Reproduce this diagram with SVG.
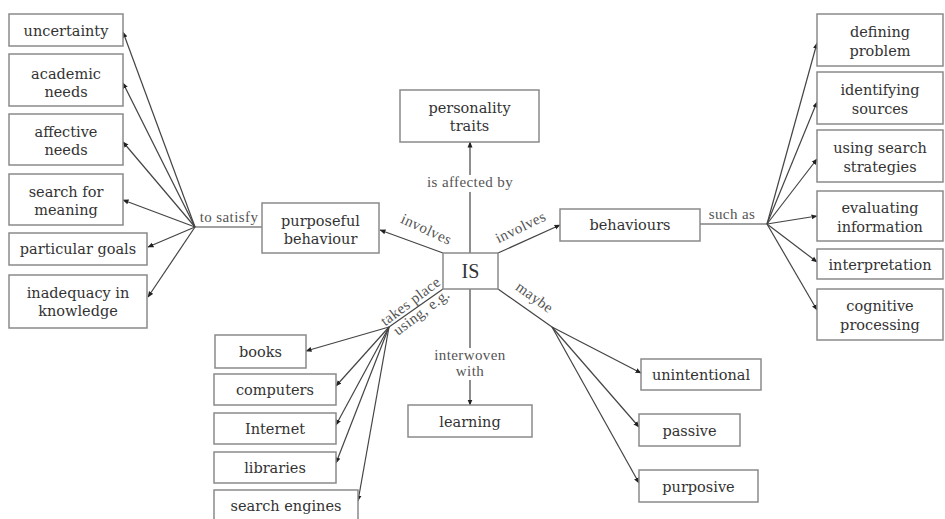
<svg xmlns="http://www.w3.org/2000/svg" width="945" height="519" viewBox="0 0 945 519">
<defs>
<marker id="ah" viewBox="0 0 6 6" refX="5.5" refY="3" markerWidth="6" markerHeight="6" markerUnits="userSpaceOnUse" orient="auto">
<path d="M0,0.5 L6,3 L0,5.5 z" fill="#222"/>
</marker>
<style>
rect{fill:#fff;stroke:#8a8a8a;stroke-width:1.5}
text{fill:#333;text-anchor:middle;font-family:"DejaVu Serif","Liberation Serif",serif}
.n{font-size:14.5px}
.l{font-size:13px;fill:#555;font-family:"Liberation Serif","DejaVu Serif",serif;font-size:15px;letter-spacing:0.4px}
.c line{stroke:#444;stroke-width:1.2;fill:none}
.a{marker-end:url(#ah)}
</style>
</defs>
<rect x="0" y="0" width="945" height="519" style="fill:#fff;stroke:none"/>
<g class="c" id="connectors">
<line x1="470" y1="253" x2="470" y2="192"/>
<line class="a" x1="470" y1="175" x2="470" y2="142"/>
<line class="a" x1="443" y1="253" x2="380" y2="230"/>
<line class="a" x1="498" y1="253" x2="560" y2="225"/>
<line x1="262" y1="227" x2="195" y2="227"/>
<line class="a" x1="195" y1="227" x2="123" y2="32"/>
<line class="a" x1="195" y1="227" x2="123" y2="83"/>
<line class="a" x1="195" y1="227" x2="123" y2="142"/>
<line class="a" x1="195" y1="227" x2="123" y2="200"/>
<line class="a" x1="195" y1="227" x2="148" y2="247"/>
<line class="a" x1="195" y1="227" x2="148" y2="297"/>
<line x1="700" y1="224" x2="767" y2="224"/>
<line class="a" x1="767" y1="224" x2="817" y2="43"/>
<line class="a" x1="767" y1="224" x2="817" y2="102"/>
<line class="a" x1="767" y1="224" x2="817" y2="159"/>
<line class="a" x1="767" y1="224" x2="817" y2="216"/>
<line class="a" x1="767" y1="224" x2="817" y2="262"/>
<line class="a" x1="767" y1="224" x2="817" y2="310"/>
<line x1="443" y1="289" x2="389" y2="327"/>
<line class="a" x1="389" y1="327" x2="306" y2="351"/>
<line class="a" x1="389" y1="327" x2="336" y2="386"/>
<line class="a" x1="389" y1="327" x2="336" y2="425"/>
<line class="a" x1="389" y1="327" x2="336" y2="463"/>
<line class="a" x1="389" y1="327" x2="358" y2="501"/>
<line x1="470" y1="289" x2="470" y2="348"/>
<line class="a" x1="470" y1="380" x2="470" y2="405"/>
<line x1="498" y1="289" x2="552" y2="327"/>
<line class="a" x1="552" y1="327" x2="641" y2="373"/>
<line class="a" x1="552" y1="327" x2="639" y2="427"/>
<line class="a" x1="552" y1="327" x2="639" y2="483"/>
<text class="l" x="470" y="187">is affected by</text>
<text class="l" transform="translate(426,230) rotate(25)" x="0" y="4">involves</text>
<text class="l" transform="translate(521,228) rotate(-26)" x="0" y="4">involves</text>
<text class="l" x="229" y="222">to satisfy</text>
<text class="l" x="732" y="219">such as</text>
<text class="l" transform="translate(411,302) rotate(-37)" x="0" y="4">takes place</text>
<text class="l" transform="translate(422,313) rotate(-37)" x="0" y="4">using, e.g.</text>
<text class="l" transform="translate(534,298) rotate(36)" x="0" y="4">maybe</text>
<text class="l" x="470" y="360">interwoven</text>
<text class="l" x="470" y="376">with</text>
</g>
<g id="is"><rect x="443" y="253" width="55" height="36"/><text x="470.5" y="278" style="font-size:20px;font-family:'Liberation Serif',serif">IS</text></g>
<g id="personality"><rect x="400" y="90" width="139" height="52"/><text class="n" x="469.5" y="113">personality</text><text class="n" x="469.5" y="131">traits</text></g>
<g id="purposeful"><rect x="262" y="203" width="117" height="50"/><text class="n" x="320.5" y="226">purposeful</text><text class="n" x="320.5" y="244">behaviour</text></g>
<g id="behaviours"><rect x="560" y="209" width="140" height="32"/><text class="n" x="630" y="230">behaviours</text></g>
<g id="learning"><rect x="408" y="405" width="124" height="32"/><text class="n" x="470" y="427">learning</text></g>
<g id="uncertainty"><rect x="9" y="14" width="114" height="32"/><text class="n" x="66" y="36">uncertainty</text></g>
<g id="academic"><rect x="9" y="54" width="114" height="52"/><text class="n" x="66" y="79">academic</text><text class="n" x="66" y="97">needs</text></g>
<g id="affective"><rect x="9" y="114" width="114" height="51"/><text class="n" x="66" y="137">affective</text><text class="n" x="66" y="155">needs</text></g>
<g id="search-meaning"><rect x="9" y="174" width="114" height="51"/><text class="n" x="66" y="197">search for</text><text class="n" x="66" y="215">meaning</text></g>
<g id="goals"><rect x="9" y="233" width="138" height="32"/><text class="n" x="78" y="254">particular goals</text></g>
<g id="inadequacy"><rect x="9" y="275" width="138" height="53"/><text class="n" x="78" y="298">inadequacy in</text><text class="n" x="78" y="316">knowledge</text></g>
<g id="defining"><rect x="817" y="14" width="126" height="52"/><text class="n" x="880" y="37">defining</text><text class="n" x="880" y="56">problem</text></g>
<g id="identifying"><rect x="817" y="72" width="126" height="52"/><text class="n" x="880" y="95">identifying</text><text class="n" x="880" y="114">sources</text></g>
<g id="strategies"><rect x="817" y="130" width="126" height="52"/><text class="n" x="880" y="153">using search</text><text class="n" x="880" y="172">strategies</text></g>
<g id="evaluating"><rect x="817" y="191" width="126" height="50"/><text class="n" x="880" y="213">evaluating</text><text class="n" x="880" y="232">information</text></g>
<g id="interpretation"><rect x="817" y="249" width="126" height="30"/><text class="n" x="880" y="270">interpretation</text></g>
<g id="cognitive"><rect x="817" y="289" width="126" height="51"/><text class="n" x="880" y="311">cognitive</text><text class="n" x="880" y="330">processing</text></g>
<g id="books"><rect x="215" y="335" width="91" height="33"/><text class="n" x="260.5" y="357">books</text></g>
<g id="computers"><rect x="214" y="374" width="122" height="31"/><text class="n" x="275" y="395">computers</text></g>
<g id="internet"><rect x="214" y="413" width="122" height="31"/><text class="n" x="275" y="434">Internet</text></g>
<g id="libraries"><rect x="214" y="452" width="122" height="31"/><text class="n" x="275" y="473">libraries</text></g>
<g id="search-engines"><rect x="214" y="490" width="144" height="36"/><text class="n" x="286" y="511">search engines</text></g>
<g id="unintentional"><rect x="641" y="359" width="120" height="31"/><text class="n" x="701" y="380">unintentional</text></g>
<g id="passive"><rect x="639" y="414" width="101" height="32"/><text class="n" x="689.5" y="436">passive</text></g>
<g id="purposive"><rect x="639" y="470" width="119" height="32"/><text class="n" x="698.5" y="492">purposive</text></g>
</svg>
